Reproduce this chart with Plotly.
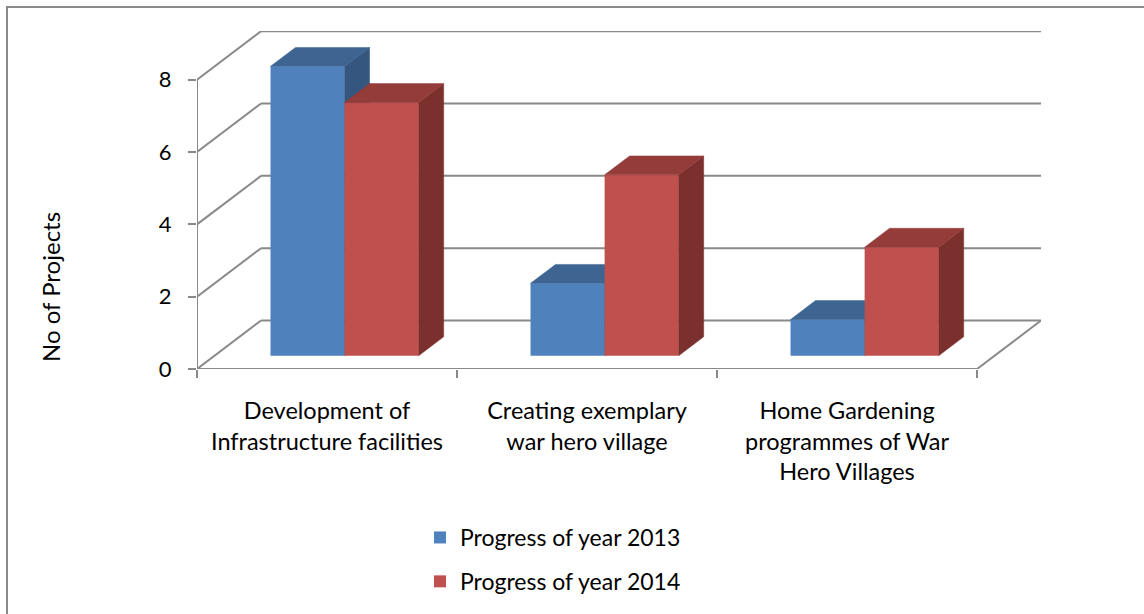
import plotly.graph_objects as go

# ---------------- data ----------------
categories = [
    "Development of<br>Infrastructure facilities",
    "Creating exemplary<br>war hero village",
    "Home Gardening<br>programmes of War<br>Hero Villages",
]
series_names = ["Progress of year 2013", "Progress of year 2014"]
values_2013 = [8, 2, 1]
values_2014 = [7, 5, 3]
y_tick_values = [0, 2, 4, 6, 8]
y_title = "No of Projects"

# ---------------- style constants ----------------
FONT = "Lato"
GRID = "#898989"
FRONT = ["#4F81BD", "#C0504D"]
TOP = ["#3E6592", "#943C3A"]
SIDE = ["#35577F", "#7B302E"]

W, H = 1144, 614
ML, MR, MT, MB = 197, 103, 31, 245
XR = [-0.5, 2.746]
YR = [0, 9.347]
DX, DY = 0.2462, 1.341          # full floor depth offset (axis units)
F0, F1 = 0.275, 0.665           # bar depth band (fraction of floor depth)
BW = 0.285                      # bar width
YMAX = max(y_tick_values)

base = F0 * DY
ddx, ddy = (F1 - F0) * DX, (F1 - F0) * DY
offsets = [F0 * DX - BW, F0 * DX]
xs = list(range(len(categories)))

fig = go.Figure()

for s, vals in enumerate([values_2013, values_2014]):
    xa = "x" if s == 0 else "x2"
    ya = "y" if s == 0 else "y2"
    fig.add_trace(go.Bar(
        x=xs, y=vals, base=base, width=BW, offset=offsets[s],
        name=series_names[s], legendgroup=series_names[s],
        marker=dict(color=FRONT[s], line=dict(width=0)),
        xaxis=xa, yaxis=ya, hoverinfo="skip",
    ))
    tx, ty, sx, sy = [], [], [], []
    for i, v in enumerate(vals):
        x0 = i + offsets[s]
        x1 = x0 + BW
        h = base + v
        tx += [x0, x0 + ddx, x1 + ddx, x1, x0, None]
        ty += [h, h + ddy, h + ddy, h, h, None]
        sx += [x1, x1, x1 + ddx, x1 + ddx, x1, None]
        sy += [base, h, h + ddy, base + ddy, base, None]
    for fx, fy, col in [(sx, sy, SIDE[s]), (tx, ty, TOP[s])]:
        fig.add_trace(go.Scatter(
            x=fx, y=fy, mode="lines", fill="toself", fillcolor=col,
            line=dict(color=col, width=0.5), showlegend=False,
            legendgroup=series_names[s], xaxis=xa, yaxis=ya, hoverinfo="skip",
        ))

# ---------------- 3D frame (walls / floor) ----------------
shapes = []
line = dict(color=GRID, width=2)
x_left, x_right = -0.5, len(categories) - 0.5
for v in y_tick_values:
    shapes.append(dict(type="line", xref="x", yref="y", x0=x_left, y0=v,
                       x1=x_left + DX, y1=v + DY, line=line, layer="below"))
    shapes.append(dict(type="line", xref="x", yref="y", x0=x_left + DX, y0=v + DY,
                       x1=x_right + DX, y1=v + DY, line=line, layer="below"))
shapes.append(dict(type="line", xref="x", yref="y", x0=x_left, y0=0, x1=x_left, y1=YMAX,
                   line=line, layer="below"))
shapes.append(dict(type="line", xref="x", yref="y", x0=x_left, y0=0, x1=x_right, y1=0,
                   line=line, layer="below"))
shapes.append(dict(type="line", xref="x", yref="y", x0=x_right, y0=0, x1=x_right + DX, y1=DY,
                   line=line, layer="below"))

pw, ph = W - ML - MR, H - MT - MB
def px2paper_x(p):
    return (p - ML) / pw
def px2paper_y(p):
    return (H - MB - p) / ph
shapes.append(dict(type="rect", xref="paper", yref="paper",
                   x0=px2paper_x(7), y0=px2paper_y(7), x1=px2paper_x(1170), y1=px2paper_y(640),
                   line=dict(color=GRID, width=2), layer="below"))

fig.update_layout(
    width=W, height=H,
    margin=dict(l=ML, r=MR, t=MT, b=MB, autoexpand=False),
    paper_bgcolor="white", plot_bgcolor="rgba(0,0,0,0)",
    font=dict(family=FONT, size=22, color="black"),
    showlegend=True,
    barmode="overlay",
    shapes=shapes,
    xaxis=dict(range=XR, showgrid=False, zeroline=False, showline=False, automargin=False,
               tickmode="array", tickvals=[x_left + k for k in range(len(categories) + 1)],
               showticklabels=False, ticks="outside", ticklen=8, tickwidth=2, tickcolor=GRID,
               fixedrange=True),
    yaxis=dict(range=YR, showgrid=False, zeroline=False, showline=False, automargin=False,
               tickmode="array", tickvals=y_tick_values,
               ticks="outside", ticklen=8, tickwidth=2, tickcolor=GRID,
               ticklabelstandoff=12, tickfont=dict(size=22), fixedrange=True),
    xaxis2=dict(range=XR, overlaying="x", anchor="y2", side="bottom", automargin=False,
                showgrid=False, zeroline=False, showline=False,
                tickmode="array", tickvals=xs, ticktext=categories,
                ticks="outside", ticklen=21, tickcolor="rgba(0,0,0,0)",
                tickfont=dict(size=23.5), tickangle=0, fixedrange=True),
    yaxis2=dict(range=YR, overlaying="y", anchor="x2", visible=False, fixedrange=True,
                automargin=False),
    legend=dict(xref="container", yref="container", x=420 / W, y=1 - 516 / H,
                xanchor="left", yanchor="top",
                font=dict(size=23), tracegroupgap=11, bgcolor="rgba(0,0,0,0)",
                traceorder="grouped"),
    annotations=[dict(text=y_title, xref="paper", yref="paper",
                      x=px2paper_x(50), y=px2paper_y(287), textangle=-90,
                      showarrow=False, font=dict(size=24), xanchor="center", yanchor="middle")],
)

fig.write_html("out.html", config={"displayModeBar": False},
               post_script="document.body.style.margin='0px';")
